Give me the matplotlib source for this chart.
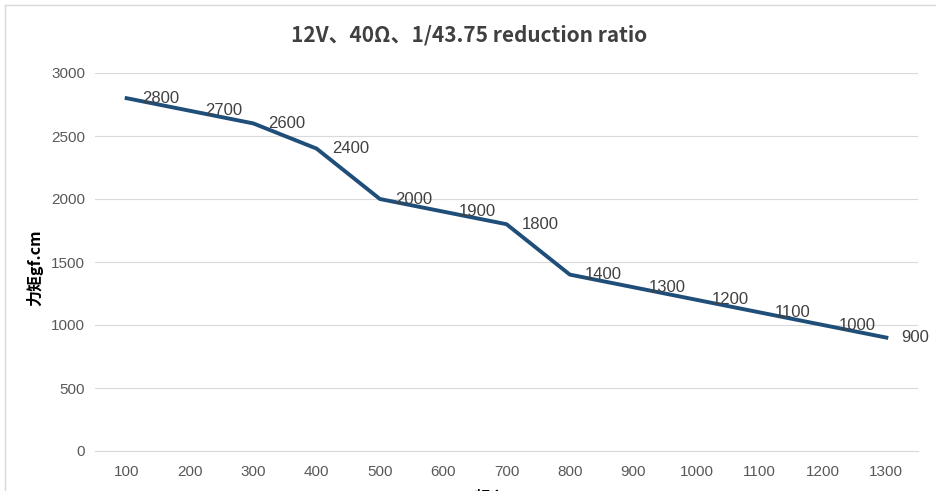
import matplotlib.pyplot as plt
from matplotlib.lines import Line2D

plt.rcParams['font.family'] = ['Noto Sans CJK SC', 'DejaVu Sans']

# datos
freq = ['100', '200', '300', '400', '500', '600', '700', '800', '900', '1000', '1100', '1200', '1300']
torque = [2800, 2700, 2600, 2400, 2000, 1900, 1800, 1400, 1300, 1200, 1100, 1000, 900]

W, H = 936, 491
fig = plt.figure(figsize=(W / 100, H / 100), dpi=100)
ax = fig.add_axes([95 / W, 1 - 451 / H, (918 - 95) / W, (451 - 73) / H])

x = list(range(len(freq)))
ax.plot(x, torque, color='#1F4E79', lw=2.8, solid_joinstyle='round', zorder=3)

for xi, v in zip(x, torque):
    ax.annotate(str(v), (xi, v), xytext=(11, 0), textcoords='offset points',
                ha='left', va='center', fontsize=12, color='#404040',
                family='Liberation Sans', zorder=4)

ax.set_xlim(-0.5, len(freq) - 0.5)
ax.set_ylim(0, 3000)
ax.set_yticks(range(0, 3001, 500))
ax.set_xticks(x)
ax.set_xticklabels(freq)
ax.grid(axis='y', color='#D9D9D9', lw=0.8)
ax.set_axisbelow(True)
for s in ['top', 'right', 'left']:
    ax.spines[s].set_visible(False)
ax.spines['bottom'].set_color('#D9D9D9')
ax.tick_params(length=0, labelsize=11, labelcolor='#595959', labelfontfamily='Liberation Sans')
ax.tick_params(axis='y', pad=7)
ax.tick_params(axis='x', pad=10)

fig.text(469 / W, 1 - 35 / H, '12V、40Ω、1/43.75 reduction ratio', ha='center', va='center',
         fontsize=15, fontweight='bold', color='#404040')
fig.text(35 / W, 1 - 268 / H, '力矩gf.cm', rotation=90, ha='center', va='center',
         fontsize=11.5, fontweight='bold', color='#000000')
# etiqueta del eje x, cortada en el borde inferior como en la imagen original
fig.text(490 / W, 1 - 497 / H, '频率', ha='center', va='center',
         fontsize=11.5, fontweight='bold', color='#000000')

# borde del area del grafico
fig.add_artist(Line2D([5 / W, 5 / W], [0, 1 - 5 / H], color='#D9D9D9', lw=1))
fig.add_artist(Line2D([5 / W, 1], [1 - 5 / H, 1 - 5 / H], color='#D9D9D9', lw=1))

fig.savefig('out.png', dpi=100)
